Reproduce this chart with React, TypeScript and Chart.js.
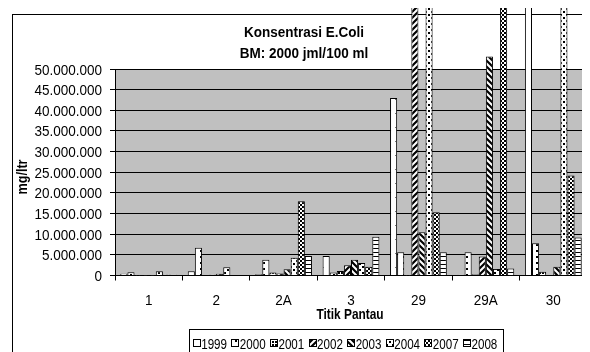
import React, { useEffect, useRef } from "react";
import { Chart, registerables } from "chart.js";

Chart.register(...registerables);

const categories = ["1", "2", "2A", "3", "29", "29A", "30"];
const seriesNames = ["1999", "2000", "2001", "2002", "2003", "2004", "2007", "2008"];
const v1999 = [450000, 1000000, 300000, 4700000, 43000000, 200000, 100000000];
const v2000 = [800000, 6700000, 3800000, 700000, 5600000, 5600000, 7800000];
const v2001 = [50000, 150000, 700000, 1100000, 50000, 300000, 900000];
const v2002 = [50000, 200000, 500000, 2500000, 120000000, 4600000, 100000];
const v2003 = [50000, 400000, 1500000, 3800000, 10500000, 53000000, 2100000];
const v2004 = [1000000, 2000000, 4300000, 3000000, 150000000, 1600000, 130000000];
const v2007 = [200000, 100000, 18000000, 2100000, 15300000, 110000000, 24200000];
const v2008 = [200000, 100000, 4700000, 9400000, 5600000, 1700000, 9200000];
const seriesValues = [v1999, v2000, v2001, v2002, v2003, v2004, v2007, v2008];

const titleLines = ["Konsentrasi E.Coli", "BM: 2000 jml/100 ml"];
const yTitle = "mg/ltr";
const xTitle = "Titik Pantau";
const yMax = 50000000;
const yStep = 5000000;

const FONT = "'Liberation Sans', Arial, sans-serif";
const SX = 0.9;

function fmt(v: number) {
  return Math.round(v).toString().replace(/\B(?=(\d{3})+(?!\d))/g, ".");
}

function drawText(
  c: CanvasRenderingContext2D,
  text: string,
  x: number,
  y: number,
  font: string,
  align: CanvasTextAlign,
  baseline: CanvasTextBaseline = "alphabetic",
  sx = SX
) {
  c.save();
  c.translate(x, y);
  c.scale(sx, 1);
  c.font = font;
  c.textAlign = align;
  c.textBaseline = baseline;
  c.fillStyle = "#000";
  c.fillText(text, 0, 0);
  c.restore();
}

function makePatterns(ctx: CanvasRenderingContext2D) {
  const mk = (w: number, h: number, draw: (g: CanvasRenderingContext2D) => void) => {
    const c = document.createElement("canvas");
    c.width = w;
    c.height = h;
    const g = c.getContext("2d")!;
    g.fillStyle = "#fff";
    g.fillRect(0, 0, w, h);
    g.fillStyle = "#000";
    g.strokeStyle = "#000";
    draw(g);
    return ctx.createPattern(c, "repeat") as CanvasPattern;
  };
  return [
    mk(8, 14, (g) => { g.fillStyle = "#777"; g.fillRect(3, 7, 1, 1); }),
    mk(7, 6, (g) => { g.fillRect(3, 2, 2, 2); }),
    mk(3, 3, (g) => { g.fillRect(0, 0, 2, 2); }),
    mk(6, 6, (g) => {
      g.lineWidth = 2.2;
      g.beginPath();
      g.moveTo(-1, 7); g.lineTo(7, -1);
      g.moveTo(-1, 1); g.lineTo(1, -1);
      g.moveTo(5, 7); g.lineTo(7, 5);
      g.stroke();
    }),
    mk(6, 6, (g) => {
      g.lineWidth = 2.2;
      g.beginPath();
      g.moveTo(-1, -1); g.lineTo(7, 7);
      g.moveTo(5, -1); g.lineTo(7, 1);
      g.moveTo(-1, 5); g.lineTo(1, 7);
      g.stroke();
    }),
    mk(6, 6, (g) => { g.fillRect(0, 0, 2, 2); g.fillRect(3, 3, 2, 2); }),
    mk(4, 4, (g) => { g.fillRect(0, 0, 2, 2); g.fillRect(2, 2, 2, 2); }),
    mk(4, 4, (g) => { g.fillRect(0, 0, 4, 1); }),
  ];
}

export default function App() {
  const ref = useRef<HTMLCanvasElement | null>(null);
  useEffect(() => {
    const canvas = ref.current!;
    const ctx = canvas.getContext("2d")!;
    const patterns = makePatterns(ctx);

    const decor = {
      id: "decor",
      beforeDraw(chart: any) {
        const c = chart.ctx;
        const a = chart.chartArea;
        c.save();
        c.fillStyle = "#fff";
        c.fillRect(0, 0, chart.width, chart.height);
        c.strokeStyle = "#000";
        c.lineWidth = 1;
        c.strokeRect(4.5, 6.5, 800, 800);
        c.fillStyle = "#c0c0c0";
        c.fillRect(a.left, a.top, a.right - a.left, a.bottom - a.top);
        c.restore();
      },
      afterDraw(chart: any) {
        const c = chart.ctx;
        c.save();
        // titles
        drawText(c, titleLines[0], 296, 28.7, `bold 15px ${FONT}`, "center");
        drawText(c, titleLines[1], 296, 50.3, `bold 15px ${FONT}`, "center");
        drawText(c, xTitle, 342, 311, `bold 14px ${FONT}`, "center", "alphabetic", 0.85);
        c.save();
        c.translate(15, 169);
        c.rotate(-Math.PI / 2);
        drawText(c, yTitle, 0, 0, `bold 14px ${FONT}`, "center", "middle", 0.9);
        c.restore();

        // y tick labels
        const ys = chart.scales.y;
        ys.ticks.forEach((t: any) => {
          const py = ys.getPixelForValue(t.value);
          drawText(c, fmt(t.value), 94, py + 5.5, `15px ${FONT}`, "right");
        });
        // x tick labels
        const xs = chart.scales.x;
        categories.forEach((lab, i) => {
          const px = xs.getPixelForValue(i);
          drawText(c, lab, px, 296.5, `15px ${FONT}`, "center");
        });

        // legend
        c.strokeStyle = "#000";
        c.lineWidth = 1;
        c.strokeRect(181.5, 321.5, 314, 60);
        const lf = `14px ${FONT}`;
        const lsx = 0.83;
        c.font = lf;
        const iconW = 7;
        const gap = 1.5;
        const widths = seriesNames.map((s) => c.measureText(s).width * lsx);
        const startX = 184.7;
        const endX = 489.3;
        const total = widths.reduce((s, w) => s + w + iconW + gap, 0);
        const space = (endX - startX - total) / (seriesNames.length - 1);
        let x = startX;
        const cy = 336;
        seriesNames.forEach((s, i) => {
          const ix = Math.round(x) + 0.5;
          c.fillStyle = patterns[i];
          c.fillRect(ix, cy - 4.5, iconW, iconW);
          c.strokeRect(ix, cy - 4.5, iconW, iconW);
          drawText(c, s, x + iconW + gap, cy + 5, lf, "left", "alphabetic", lsx);
          x += iconW + gap + widths[i] + space;
        });
        c.restore();
      },
    };

    const chart = new Chart(ctx, {
      type: "bar",
      data: {
        labels: categories,
        datasets: seriesNames.map((name, i) => ({
          label: name,
          data: seriesValues[i],
          backgroundColor: patterns[i],
          borderColor: "#000",
          borderWidth: 1,
          categoryPercentage: 8 / 9.5,
          barPercentage: 1,
          clip: false as any,
        })),
      },
      options: {
        responsive: false,
        animation: false,
        events: [],
        layout: { padding: { top: 61, left: 0, right: 3, bottom: 46.5 } },
        plugins: {
          legend: { display: false },
          title: { display: false },
          tooltip: { enabled: false },
        },
        scales: {
          x: {
            offset: true,
            grid: {
              display: true,
              offset: true,
              drawOnChartArea: false,
              drawTicks: true,
              tickLength: 5,
              color: "#000",
            },
            border: { display: true, color: "#000" },
            ticks: { display: false },
            afterFit(scale: any) { scale.height = 30; },
          },
          y: {
            min: 0,
            max: yMax,
            ticks: { stepSize: yStep, display: false },
            grid: { color: "#000", tickLength: 5, drawTicks: true },
            border: { display: true, color: "#000" },
            afterFit(scale: any) { scale.width = 107; },
          },
        },
      },
      plugins: [decor],
    });
    return () => chart.destroy();
  }, []);
  return <canvas ref={ref} width={582} height={344} style={{ display: "block" }} />;
}
